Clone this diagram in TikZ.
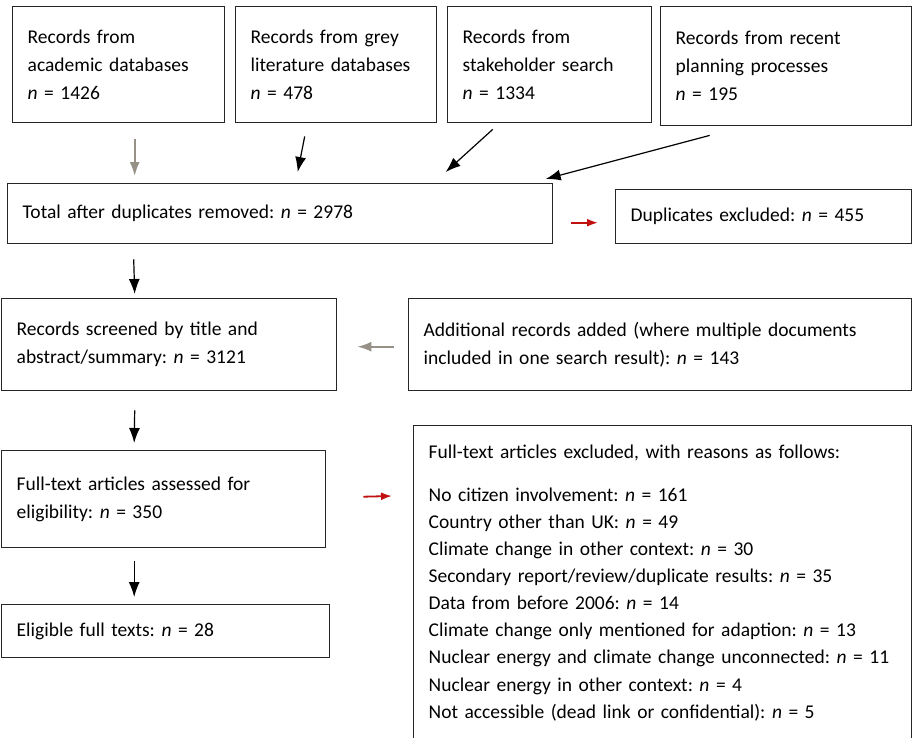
\documentclass[tikz,border=0pt]{standalone}
\usepackage{fontspec}
\setmainfont{Carlito}
\frenchspacing
\usetikzlibrary{arrows.meta}
\definecolor{arrowgrey}{RGB}{150,144,134}
\definecolor{arrowred}{RGB}{192,16,16}
\begin{document}
\begin{tikzpicture}[x=1pt, y=-1pt,
  box/.style={rectangle, draw=black!85, line width=1.4pt, anchor=north west, align=left, inner xsep=15pt, inner ysep=2pt, font=\fontsize{19.5}{28}\selectfont},
  flow/.style={-{Latex[length=15pt,width=11pt]}, line width=1.2pt},
  greyflow/.style={-{Latex[length=14pt,width=10pt]}, draw=arrowgrey, line width=1.8pt},
  redflow/.style={-{Latex[length=11pt,width=8pt]}, draw=arrowred, line width=1.8pt}]
  \useasboundingbox (0,0) rectangle (912,737);

  \node[box, text width=182pt, minimum height=116pt] (acad) at (12,6) {Records from\\academic databases\\\textit{n} = 1426};
  \node[box, text width=171pt, minimum height=116pt] (grey) at (235,6) {Records from grey\\literature databases\\\textit{n} = 478};
  \node[box, text width=174pt, minimum height=116pt] (stake) at (447,6) {Records from\\stakeholder search\\\textit{n} = 1334};
  \node[box, text width=221pt, minimum height=119pt] (plan) at (660,6) {Records from recent\\planning processes\\\textit{n} = 195};

  \node[box, text width=515pt, minimum height=60pt] (total) at (7,183) {Total after duplicates removed: \textit{n} = 2978};
  \node[box, text width=266pt, minimum height=54pt] (dupl) at (615,189) {Duplicates excluded: \textit{n} = 455};

  \node[box, text width=305pt, minimum height=92pt] (screen) at (1,298) {Records screened by title and\\abstract/summary: \textit{n} = 3121};
  \node[box, text width=473pt, minimum height=92pt] (added) at (408,298) {Additional records added (where multiple documents\\included in one search result): \textit{n} = 143};

  \node[box, text width=294pt, minimum height=97pt] (assess) at (1,450) {Full-text articles assessed for\\eligibility: \textit{n} = 350};
  \node[box, text width=298pt, minimum height=53pt] (elig) at (1,604) {Eligible full texts: \textit{n} = 28};

  \node[box, text width=468pt, inner ysep=19pt, font=\fontsize{19.5}{27.1}\selectfont] (excl) at (413,425) {Full-text articles excluded, with reasons as follows:\\[16pt]
    No citizen involvement: \textit{n} = 161\\
    Country other than UK: \textit{n} = 49\\
    Climate change in other context: \textit{n} = 30\\
    Secondary report/review/duplicate results: \textit{n} = 35\\
    Data from before 2006: \textit{n} = 14\\
    Climate change only mentioned for adaption: \textit{n} = 13\\
    Nuclear energy and climate change unconnected: \textit{n} = 11\\
    Nuclear energy in other context: \textit{n} = 4\\
    Not accessible (dead link or confidential): \textit{n} = 5};

  \draw[greyflow] ([xshift=16pt, yshift=-16pt]acad.south) -- ([xshift=-145.5pt, yshift=7pt]total.north);
  \draw[flow] ([xshift=-31.5pt, yshift=-13pt]grey.south) -- ([xshift=17.5pt, yshift=11pt]total.north);
  \draw[flow] ([xshift=-57pt, yshift=-6pt]stake.south) -- ([xshift=165.5pt, yshift=11pt]total.north);
  \draw[flow] ([xshift=-76.5pt, yshift=-9pt]plan.south) -- ([xshift=265.5pt, yshift=4pt]total.north);
  \draw[redflow] ([xshift=18pt, yshift=-9pt]total.east) -- ([xshift=-17pt, yshift=-6pt]dupl.west);
  \draw[flow] ([xshift=-146.5pt, yshift=-15pt]total.south) -- ([xshift=-34.5pt, yshift=4pt]screen.north);
  \draw[greyflow] ([xshift=-14pt, yshift=-2pt]added.west) -- ([xshift=20pt, yshift=-2pt]screen.east);
  \draw[flow] ([xshift=-34.5pt, yshift=-19pt]screen.south) -- ([xshift=-29.5pt, yshift=7pt]assess.north);
  \draw[redflow] ([xshift=37pt, yshift=2.5pt]assess.east) -- ([xshift=-21pt, yshift=-71pt]excl.north west);
  \draw[flow] ([xshift=-29.5pt, yshift=-13pt]assess.south) -- ([xshift=-31.5pt, yshift=7pt]elig.north);
\end{tikzpicture}
\end{document}
